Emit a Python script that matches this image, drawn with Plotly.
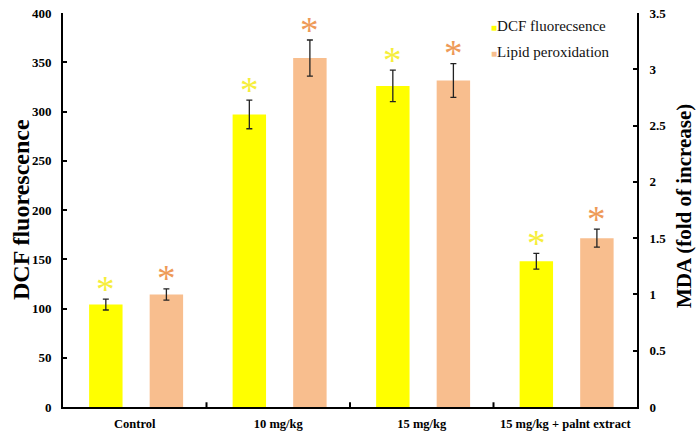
import plotly.graph_objects as go

categories = ["Control", "10 mg/kg", "15 mg/kg", "15 mg/kg + palnt extract"]
dcf_values = [104, 297, 326, 148]
dcf_errors = [5.5, 14.5, 16, 8]
mda_values = [1.00, 3.10, 2.90, 1.50]
mda_errors = [0.05, 0.16, 0.15, 0.08]
dcf_signif = ["*", "*", "*", "*"]
mda_signif = ["*", "*", "*", "*"]

YELLOW = "#FFFF00"
PEACH = "#F8BE8E"
YELLOW_STAR = "#F6EE3C"
PEACH_STAR = "#EE9A58"
SERIF = "Liberation Serif, Times New Roman, serif"

BAR_W = 0.233
DCF_OFF = -0.318
MDA_OFF = 0.104

idx = list(range(len(categories)))

fig = go.Figure()
fig.add_trace(go.Bar(
    x=idx, y=dcf_values, name="DCF fluorecsence",
    marker=dict(color=YELLOW, line=dict(width=0)),
    width=BAR_W, offset=DCF_OFF,
    error_y=dict(type="data", array=dcf_errors, color="#222222", thickness=1.3, width=3),
    yaxis="y", showlegend=False,
))
fig.add_trace(go.Bar(
    x=idx, y=mda_values, name="Lipid peroxidation",
    marker=dict(color=PEACH, line=dict(width=0)),
    width=BAR_W, offset=MDA_OFF,
    error_y=dict(type="data", array=mda_errors, color="#222222", thickness=1.3, width=3),
    yaxis="y2", showlegend=False,
))

annotations = []
for i, (v, e, s) in enumerate(zip(dcf_values, dcf_errors, dcf_signif)):
    annotations.append(dict(
        x=i + DCF_OFF + BAR_W / 2, y=v + e, xref="x", yref="y",
        text=s, showarrow=False, xanchor="center", yanchor="middle", yshift=10,
        font=dict(family=SERIF, size=37, color=YELLOW_STAR),
    ))
for i, (v, e, s) in enumerate(zip(mda_values, mda_errors, mda_signif)):
    annotations.append(dict(
        x=i + MDA_OFF + BAR_W / 2, y=v + e, xref="x", yref="y2",
        text=s, showarrow=False, xanchor="center", yanchor="middle", yshift=10,
        font=dict(family=SERIF, size=37, color=PEACH_STAR),
    ))

# legend
legend_items = [("DCF fluorecsence", YELLOW), ("Lipid peroxidation", PEACH)]
for k, (label, col) in enumerate(legend_items):
    annotations.append(dict(
        x=0.743, y=1 - (13 + 26 * k) / 394, xref="paper", yref="paper",
        xanchor="left", yanchor="middle", showarrow=False,
        text=f"<span style='color:{col};font-size:10px'>■</span>{label}",
        font=dict(family=SERIF, size=15, color="#111111"),
    ))

# axis titles
annotations.append(dict(
    x=0, y=0.5, xref="paper", yref="paper", xshift=-42, textangle=-90,
    xanchor="center", yanchor="middle",
    text="<b>DCF fluorescence</b>", showarrow=False,
    font=dict(family=SERIF, size=24, color="#000000"),
))
annotations.append(dict(
    x=1, y=0.51, xref="paper", yref="paper", xshift=47, textangle=-90,
    xanchor="center", yanchor="middle",
    text="<b>MDA (fold of increase)</b>", showarrow=False,
    font=dict(family=SERIF, size=21, color="#000000"),
))

fig.update_layout(
    width=700, height=436,
    margin=dict(l=63, r=63, t=13, b=29, autoexpand=False),
    plot_bgcolor="white", paper_bgcolor="white",
    barmode="overlay",
    annotations=annotations,
    font=dict(family=SERIF, color="#000000"),
    xaxis=dict(
        tickmode="array", tickvals=idx,
        ticktext=[f"<b>{c}</b>" for c in categories],
        range=[-0.5, len(categories) - 0.5],
        showline=True, linecolor="black", linewidth=2,
        showgrid=False, zeroline=False, automargin=False,
        ticks="", tickfont=dict(family=SERIF, size=12.5, color="#000000"),
        ticklabelstandoff=4,
    ),
    yaxis=dict(
        range=[0, 400], dtick=50,
        showline=True, linecolor="black", linewidth=2,
        showgrid=False, zeroline=False, automargin=False,
        ticks="inside", ticklen=4, tickwidth=2, tickcolor="black",
        tickfont=dict(family=SERIF, size=13, color="#000000"),
        tickprefix="<b>", ticksuffix="</b>",
        ticklabelstandoff=7,
    ),
    yaxis2=dict(
        range=[0, 3.5], dtick=0.5, overlaying="y", side="right",
        showline=True, linecolor="black", linewidth=2,
        showgrid=False, zeroline=False, automargin=False,
        ticks="inside", ticklen=4, tickwidth=2, tickcolor="black",
        tickfont=dict(family=SERIF, size=13, color="#000000"),
        tickprefix="<b>", ticksuffix="</b>",
        ticklabelstandoff=8,
    ),
)

# category boundary ticks
shapes = []
for b in [0.5, 1.5, 2.5]:
    shapes.append(dict(type="line", xref="x", yref="paper", x0=b, x1=b, y0=0, y1=0.012,
                       line=dict(color="black", width=2)))
fig.update_layout(shapes=shapes)

fig.write_html(
    "out.html",
    config={"displayModeBar": False},
    post_script="document.body.style.margin='0';document.body.style.overflow='hidden';",
)
